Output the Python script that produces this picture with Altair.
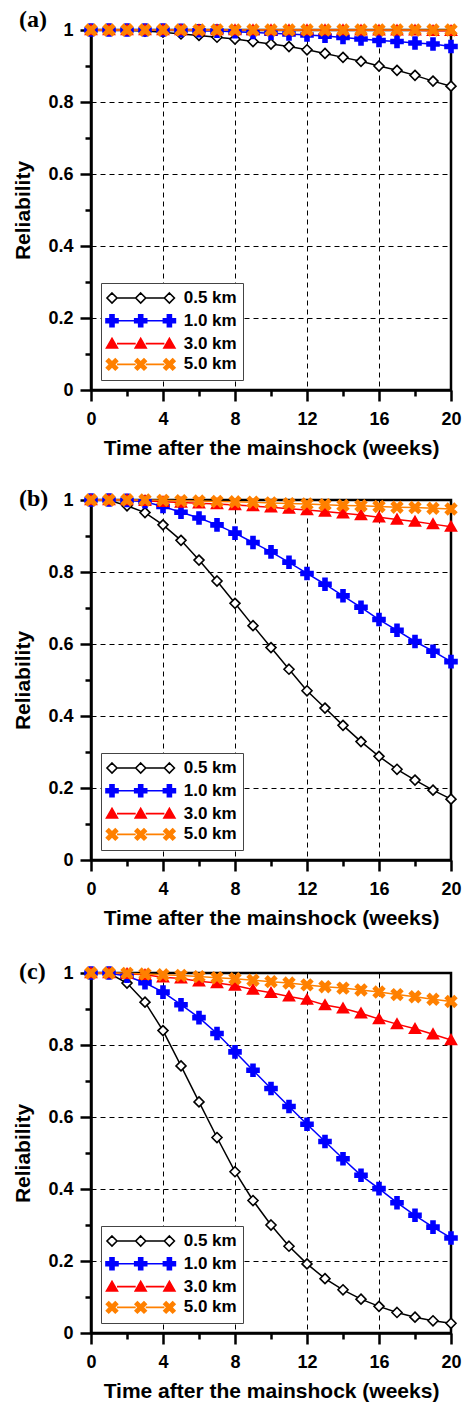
import math
import altair as alt
import pandas as pd

# ---------------- data ----------------
weeks = list(range(21))
series_names = ["0.5 km", "1.0 km", "3.0 km", "5.0 km"]
line_colors = ["#000000", "#0000FF", "#FF0000", "#FF8000"]
marker_fills = ["#FFFFFF", "#0000FF", "#FF0000", "#FF8000"]
panel_tags = ["(a)", "(b)", "(c)"]

a_05 = [1.0, 1.0, 0.999, 0.997, 0.994, 0.989, 0.985, 0.980, 0.975, 0.968, 0.961,
        0.954, 0.945, 0.935, 0.924, 0.913, 0.900, 0.888, 0.874, 0.858, 0.844]
a_10 = [1.0, 1.0, 1.0, 1.0, 1.0, 0.999, 0.998, 0.997, 0.995, 0.993, 0.991,
        0.989, 0.986, 0.983, 0.979, 0.975, 0.971, 0.968, 0.964, 0.961, 0.954]
a_30 = [1.0, 1.0, 1.0, 1.0, 1.0, 1.0, 1.0, 1.0, 1.0, 1.0, 1.0,
        1.0, 1.0, 1.0, 1.0, 0.999, 0.999, 0.999, 0.999, 0.998, 0.998]
a_50 = [1.0, 1.0, 1.0, 1.0, 1.0, 1.0, 1.0, 1.0, 1.0, 1.0, 1.0,
        1.0, 1.0, 1.0, 1.0, 1.0, 1.0, 1.0, 1.0, 1.0, 1.0]

b_05 = [1.0, 0.999, 0.984, 0.965, 0.931, 0.888, 0.833, 0.775, 0.713, 0.651, 0.590,
        0.530, 0.470, 0.422, 0.374, 0.329, 0.288, 0.252, 0.222, 0.194, 0.169]
b_10 = [1.0, 1.0, 0.999, 0.995, 0.982, 0.966, 0.950, 0.931, 0.908, 0.882, 0.856,
        0.827, 0.796, 0.766, 0.734, 0.702, 0.668, 0.638, 0.607, 0.580, 0.551]
b_30 = [1.0, 1.0, 1.0, 0.998, 0.995, 0.993, 0.991, 0.989, 0.986, 0.983, 0.980,
        0.976, 0.972, 0.968, 0.963, 0.958, 0.952, 0.946, 0.940, 0.933, 0.926]
b_50 = [1.0, 1.0, 1.0, 1.0, 0.999, 0.998, 0.997, 0.996, 0.995, 0.994, 0.992,
        0.990, 0.989, 0.987, 0.985, 0.984, 0.982, 0.980, 0.979, 0.977, 0.975]

c_05 = [1.0, 0.999, 0.972, 0.919, 0.840, 0.742, 0.642, 0.543, 0.448, 0.368, 0.300,
        0.241, 0.192, 0.151, 0.120, 0.094, 0.074, 0.057, 0.044, 0.034, 0.027]
c_10 = [1.0, 1.0, 0.991, 0.973, 0.947, 0.912, 0.876, 0.832, 0.781, 0.730, 0.679,
        0.629, 0.580, 0.532, 0.484, 0.438, 0.401, 0.362, 0.327, 0.294, 0.264]
c_30 = [1.0, 1.0, 0.998, 0.995, 0.988, 0.985, 0.977, 0.972, 0.965, 0.954, 0.945,
        0.935, 0.926, 0.911, 0.902, 0.888, 0.872, 0.858, 0.845, 0.830, 0.814]
c_50 = [1.0, 1.0, 0.999, 0.997, 0.995, 0.993, 0.990, 0.987, 0.984, 0.980, 0.976,
        0.972, 0.967, 0.962, 0.958, 0.953, 0.947, 0.940, 0.934, 0.927, 0.921]

panel_values = [
    [a_05, a_10, a_30, a_50],
    [b_05, b_10, b_30, b_50],
    [c_05, c_10, c_30, c_50],
]

x_major = [0, 4, 8, 12, 16, 20]
x_minor = [2, 6, 10, 14, 18]
y_major = [0, 0.2, 0.4, 0.6, 0.8, 1.0]
y_minor = [0.1, 0.3, 0.5, 0.7, 0.9]
x_title = "Time after the mainshock (weeks)"
y_title = "Reliability"

# ---------------- marker shapes (SVG paths) ----------------
def path_of(points):
    return "M" + "L".join(f"{x:.3f},{y:.3f}" for x, y in points) + "Z"

def diamond_pts(cx, s):
    return [(cx, -s), (cx + s, 0), (cx, s), (cx - s, 0)]

def plus_pts(cx, s, t):
    return [(cx - t, -s), (cx + t, -s), (cx + t, -t), (cx + s, -t), (cx + s, t), (cx + t, t),
            (cx + t, s), (cx - t, s), (cx - t, t), (cx - s, t), (cx - s, -t), (cx - t, -t)]

def tri_pts(cx, s):
    return [(cx, -0.95 * s), (cx + s, 0.8 * s), (cx - s, 0.8 * s)]

def x_pts(cx, s, t):
    c = math.sqrt(0.5)
    return [(cx + (x - y) * c, (x + y) * c) for x, y in plus_pts(0, s, t)]

def marker(kind, cx, k):
    if kind == 0:
        return path_of(diamond_pts(cx, 1.0 * k))
    if kind == 1:
        return path_of(plus_pts(cx, 1.2 * k, 0.4 * k))
    if kind == 2:
        return path_of(tri_pts(cx, 1.1 * k))
    return path_of(x_pts(cx, 1.25 * k, 0.33 * k))

point_paths = [marker(i, 0, 1.0) for i in range(4)]

# legend symbol: line with three markers (legend unit = 8 px, chart unit = 5 px)
LEG_K = 5.0 / 8.0
LEG_C = 28.7 / 8.0

def legend_path(kind):
    gap = LEG_K * 1.0
    segs = (f"M{-LEG_C + gap:.3f},0L{-gap:.3f},0"
            f"M{gap:.3f},0L{LEG_C - gap:.3f},0")
    return segs + "".join(marker(kind, cx, LEG_K) for cx in (-LEG_C, 0.0, LEG_C))

legend_paths = [legend_path(i) for i in range(4)]

# ---------------- chart ----------------
FONT = "Liberation Sans"

def panel(tag, values, tag_dy):
    rows = []
    for k, name in enumerate(series_names):
        for w, v in zip(weeks, values[k]):
            rows.append({"week": w, "reliability": v, "series": name, "order": k})
    df = pd.DataFrame(rows)
    base = alt.Chart(df)
    xs = alt.Scale(domain=[0, 20], nice=False, zero=False)
    ys = alt.Scale(domain=[0, 1], nice=False)

    lines = base.mark_line(strokeWidth=1.5).encode(
        x=alt.X("week:Q", scale=xs,
                axis=alt.Axis(values=x_major, tickSize=11, labelPadding=9, title=x_title,
                              titlePadding=9, grid=True, orient="bottom", labelFlush=False)),
        y=alt.Y("reliability:Q", scale=ys,
                axis=alt.Axis(values=y_major, tickSize=11, labelPadding=7, title=y_title,
                              titlePadding=14, grid=True, orient="left", format="~g",
                              labelFlush=False)),
        color=alt.Color("series:N", scale=alt.Scale(domain=series_names, range=line_colors),
                        legend=None),
    )

    points = base.mark_point(filled=True, opacity=1, size=100, strokeWidth=1.6).encode(
        x=alt.X("week:Q", scale=xs,
                axis=alt.Axis(values=x_minor, tickSize=6, labels=False, domain=False,
                              grid=False, title=None, orient="bottom")),
        y=alt.Y("reliability:Q", scale=ys,
                axis=alt.Axis(values=y_minor, tickSize=6, labels=False, domain=False,
                              grid=False, title=None, orient="left")),
        shape=alt.Shape("series:N", scale=alt.Scale(domain=series_names, range=point_paths),
                        legend=None),
        fill=alt.Fill("series:N", scale=alt.Scale(domain=series_names, range=marker_fills),
                      legend=None),
        stroke=alt.Stroke("series:N", scale=alt.Scale(domain=series_names, range=line_colors),
                          legend=None),
        order=alt.Order("order:Q"),
    )

    leg = alt.Legend(title=None, orient="bottom-left", offset=10, padding=6,
                     strokeColor="#444444", fillColor="white",
                     labelFont=FONT, labelFontWeight="bold", labelFontSize=17,
                     labelColor="black", symbolSize=256, symbolStrokeWidth=1.6,
                     symbolOffset=24.7, labelOffset=34, rowPadding=3.8)

    legend_layer = base.transform_filter("false").mark_point(
        filled=True, opacity=1, strokeWidth=1.6).encode(
        x=alt.X("week:Q", scale=xs, axis=None),
        y=alt.Y("reliability:Q", scale=ys, axis=None),
        shape=alt.Shape("series:N", scale=alt.Scale(domain=series_names, range=legend_paths),
                        legend=leg),
        fill=alt.Fill("series:N", scale=alt.Scale(domain=series_names, range=marker_fills),
                      legend=leg),
        stroke=alt.Stroke("series:N", scale=alt.Scale(domain=series_names, range=line_colors),
                          legend=leg),
    )

    tag_layer = alt.Chart(pd.DataFrame({"tag": [tag]})).mark_text(
        font="Liberation Serif", fontWeight="bold", fontSize=24, align="left",
        baseline="middle", color="black").encode(
        text="tag:N", x=alt.value(-72), y=alt.value(tag_dy))

    return alt.layer(lines, points, legend_layer, tag_layer).resolve_scale(
        shape="independent", fill="independent", stroke="independent"
    ).resolve_axis(x="independent", y="independent").properties(width=360, height=360)

panels = [panel(panel_tags[i], panel_values[i], [-10, -1, -1][i]) for i in range(3)]

indep = dict(color="independent", shape="independent", fill="independent",
             stroke="independent")

top_pair = alt.vconcat(panels[0], panels[1], spacing=25).resolve_scale(**indep)

chart = alt.vconcat(top_pair, panels[2], spacing=28).resolve_scale(**indep).properties(
    padding={"left": 11, "top": 6, "right": 2, "bottom": 2}
).configure_view(
    stroke="black", strokeWidth=2.5
).configure_axis(
    domainColor="black", domainWidth=2.5, tickColor="black", tickWidth=2.5,
    labelFont=FONT, labelFontWeight="bold", labelFontSize=18, labelColor="black",
    titleFont=FONT, titleFontWeight="bold", titleFontSize=21, titleColor="black",
    gridColor="black", gridDash=[5, 4], gridWidth=1, gridOpacity=1,
)

chart.save("out.html", embed_options={"renderer": "svg", "actions": False})
